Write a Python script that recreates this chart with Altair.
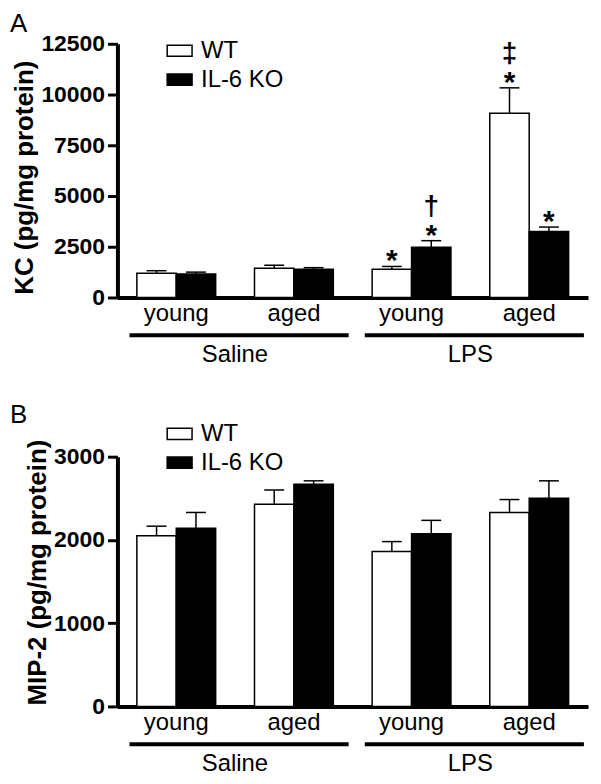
import altair as alt
import pandas as pd

FONT = "Liberation Sans"

groups = ["Saline young", "Saline aged", "LPS young", "LPS aged"]
genotypes = ["WT", "IL-6 KO"]
treat_names = ["Saline", "LPS"]
treat_first = ["Saline young", "LPS young"]
treat_last = ["Saline aged", "LPS aged"]

# Panel A: KC (pg/mg protein)
kc_wt = [1200, 1440, 1390, 9080]
kc_wt_sem = [120, 150, 140, 1250]
kc_ko = [1160, 1390, 2480, 3250]
kc_ko_sem = [90, 80, 320, 220]
kc_star_wt = ["", "", "*", "*"]
kc_star_ko = ["", "", "*", "*"]
kc_sig_wt = ["", "", "", "‡"]
kc_sig_ko = ["", "", "†", ""]

# Panel B: MIP-2 (pg/mg protein)
mip_wt = [2050, 2430, 1860, 2330]
mip_wt_sem = [115, 170, 120, 155]
mip_ko = [2140, 2670, 2075, 2500]
mip_ko_sem = [190, 40, 160, 210]
mip_star_wt = ["", "", "", ""]
mip_star_ko = ["", "", "", ""]
mip_sig_wt = ["", "", "", ""]
mip_sig_ko = ["", "", "", ""]


def make_df(wt, wts, ko, kos, swt, sko, gwt, gko):
    rows = []
    for i, g in enumerate(groups):
        rows.append(dict(group=g, geno="WT", value=wt[i], top=wt[i] + wts[i],
                         star=swt[i], sig=gwt[i]))
        rows.append(dict(group=g, geno="IL-6 KO", value=ko[i], top=ko[i] + kos[i],
                         star=sko[i], sig=gko[i]))
    return pd.DataFrame(rows)


W = 473


def panel(df, ytitle, ymax, ystep, H, legend_y, letter, title_dy, title_y):
    xscale = alt.Scale(domain=groups, paddingInner=0.33, paddingOuter=0.165)
    xaxis = alt.Axis(title=None, labelExpr="split(datum.value, ' ')[1]", labelAngle=0,
                     ticks=False, tickSize=0, labelPadding=4, labelFontSize=24,
                     labelFont=FONT, labelColor="black", labelFontWeight="normal",
                     domainWidth=4, domainColor="black")
    x = alt.X("group:N", sort=groups, scale=xscale, axis=xaxis, title=None)
    yaxis = alt.Axis(values=list(range(0, ymax + 1, ystep)), format="d", title=ytitle,
                     grid=False, domainWidth=4, domainColor="black", tickWidth=3,
                     tickSize=10, tickColor="black", labelFontSize=23, labelFont=FONT,
                     labelFontWeight="bold", labelColor="black", labelPadding=3,
                     titleFontSize=26, titleFont=FONT, titleFontWeight="bold",
                     titleColor="black", titlePadding=3, titleY=title_y)
    yscale = alt.Scale(domain=[0, ymax], nice=False, zero=True)

    def Y(f):
        return alt.Y(f, scale=yscale, axis=yaxis, title=ytitle)

    xo = alt.XOffset("geno:N", sort=genotypes,
                     scale=alt.Scale(domain=genotypes, paddingInner=0, paddingOuter=0))
    color = alt.Color("geno:N", sort=genotypes,
                      scale=alt.Scale(domain=genotypes, range=["white", "black"]),
                      legend=alt.Legend(title=None, orient="none", legendX=49,
                                        legendY=legend_y,
                                        symbolType="M-1,-0.45L1,-0.45L1,0.45L-1,0.45Z",
                                        symbolSize=625, symbolStrokeColor="black",
                                        symbolStrokeWidth=1.5, symbolOpacity=1,
                                        labelFontSize=24, labelFont=FONT,
                                        labelColor="black", labelOffset=8,
                                        rowPadding=3, padding=0))
    base = alt.Chart(df)
    bars = base.mark_bar(stroke="black", strokeWidth=1.5, opacity=1).encode(
        x=x, xOffset=xo, y=Y("value:Q"), color=color)
    err = base.mark_rule(color="black", strokeWidth=1.5).encode(
        x=x, xOffset=xo, y=Y("value:Q"), y2="top:Q")
    cap = base.mark_tick(color="black", thickness=1.5, size=20, orient="horizontal",
                         opacity=1).encode(x=x, xOffset=xo, y=Y("top:Q"))
    star = base.mark_text(font=FONT, fontSize=30, fontWeight="bold", baseline="alphabetic",
                          dy=4, color="black").encode(
        x=x, xOffset=xo, y=Y("top:Q"), text="star:N")
    sig = base.mark_text(font=FONT, fontSize=28, fontWeight="bold", baseline="alphabetic",
                         dy=-26, color="black").encode(
        x=x, xOffset=xo, y=Y("top:Q"), text="sig:N")

    gdf = pd.DataFrame(dict(name=treat_names, first=treat_first, last=treat_last))
    gbase = alt.Chart(gdf)
    grule = gbase.mark_rule(color="black", strokeWidth=4, xOffset=-47, x2Offset=55).encode(
        x=alt.X("first:N", sort=groups, scale=xscale, axis=xaxis, title=None),
        x2="last:N", y=alt.value(H + 38))
    gtext = gbase.mark_text(font=FONT, fontSize=24, color="black", baseline="alphabetic",
                            xOffset=59).encode(
        x=alt.X("first:N", sort=groups, scale=xscale, axis=xaxis, title=None),
        y=alt.value(H + 65), text="name:N")

    return alt.layer(bars, err, cap, star, sig, grule, gtext).properties(
        width=W, height=H,
        title=alt.TitleParams(letter, anchor="start", frame="group", dx=-108, dy=title_dy,
                              offset=0, fontSize=26, font=FONT, fontWeight="normal",
                              color="black"))


dfA = make_df(kc_wt, kc_wt_sem, kc_ko, kc_ko_sem, kc_star_wt, kc_star_ko, kc_sig_wt, kc_sig_ko)
dfB = make_df(mip_wt, mip_wt_sem, mip_ko, mip_ko_sem, mip_star_wt, mip_star_ko, mip_sig_wt, mip_sig_ko)

A = panel(dfA, "KC (pg/mg protein)", 12500, 2500, 255, -6.5, "A", 4, 134)
B = panel(dfB, "MIP-2 (pg/mg protein)", 3000, 1000, 251, -36.5, "B", 8, 116)

chart = alt.vconcat(A, B, spacing=160, bounds="flush").resolve_scale(
    color="independent", y="independent").resolve_legend(color="independent").properties(
    padding={"left": 2, "top": 1, "right": 5, "bottom": 5},
    background="white").configure_view(stroke=None)

chart.save("out.html", embed_options={"renderer": "svg", "actions": False})
